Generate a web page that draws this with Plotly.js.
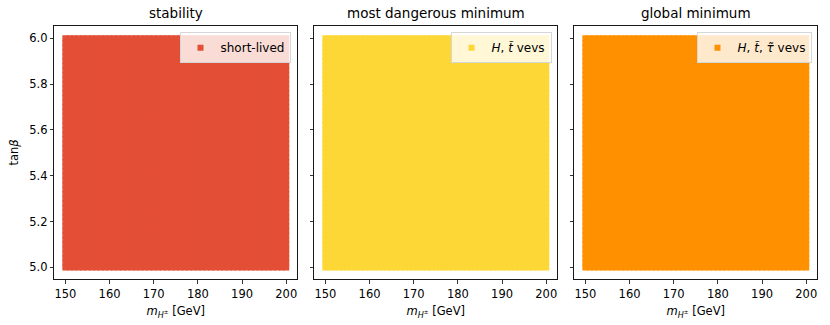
<!DOCTYPE html>
<html>
<head>
<meta charset="utf-8">
<script src="https://cdn.plot.ly/plotly-3.0.1.min.js"></script>
<style>html,body{margin:0;padding:0;background:#fff;}#chart{width:830px;height:325px;}</style>
</head>
<body>
<div id="chart"></div>
<script>
// scan grid (charged Higgs mass in GeV, tan beta)
const mH = [150,151,152,153,154,155,156,157,158,159,160,161,162,163,164,165,166,167,168,169,170,
  171,172,173,174,175,176,177,178,179,180,181,182,183,184,185,186,187,188,189,190,
  191,192,193,194,195,196,197,198,199,200];
const tanB = [5.00,5.02,5.04,5.06,5.08,5.10,5.12,5.14,5.16,5.18,5.20,5.22,5.24,5.26,5.28,5.30,
  5.32,5.34,5.36,5.38,5.40,5.42,5.44,5.46,5.48,5.50,5.52,5.54,5.56,5.58,5.60,5.62,5.64,5.66,
  5.68,5.70,5.72,5.74,5.76,5.78,5.80,5.82,5.84,5.86,5.88,5.90,5.92,5.94,5.96,5.98,6.00];
const panelTitles = ['stability', 'most dangerous minimum', 'global minimum'];
const seriesNames = ['short-lived', '<i>H</i>, <i>t̃</i> vevs', '<i>H</i>, <i>t̃</i>, <i>τ̃</i> vevs'];
const seriesColors = ['#e34f36', '#fdd736', '#ff9100'];
const xTicks = [150, 160, 170, 180, 190, 200];
const yTicks = [5.0, 5.2, 5.4, 5.6, 5.8, 6.0];

const W = 830, H = 325;
const panelsPx = [[54.3, 297.3], [314.3, 557.3], [574.3, 817.3]];
const legendRightPx = [290.5, 551.5, 811.5];
const topPx = 25.7, botPx = 279.3;
const font = 'DejaVu Sans, sans-serif';

const gx = [], gy = [];
for (const x of mH) for (const y of tanB) { gx.push(x); gy.push(y); }

const traces = [];
const layout = {
  width: W, height: H,
  margin: {l: 0, r: 0, t: 0, b: 0},
  paper_bgcolor: '#fff', plot_bgcolor: '#fff',
  showlegend: true,
  font: {family: font, color: '#000', size: 11.5},
  annotations: []
};

for (let i = 0; i < 3; i++) {
  const sfx = i === 0 ? '' : String(i + 1);
  const legKey = 'legend' + sfx;
  traces.push({
    type: 'scatter', mode: 'markers',
    x: gx, y: gy,
    xaxis: 'x' + sfx, yaxis: 'y' + sfx,
    name: seriesNames[i],
    legend: legKey,
    showlegend: true,
    marker: {symbol: 'square', size: 6, color: seriesColors[i], line: {width: 0}},
    hoverinfo: 'skip'
  });
  const dom = [panelsPx[i][0] / W, panelsPx[i][1] / W];
  layout['xaxis' + sfx] = {
    domain: dom, range: [147.5, 202.5], anchor: 'y' + sfx,
    tickvals: xTicks, ticks: 'outside', ticklen: 3.5, tickwidth: 0.8, tickcolor: '#000',
    showline: true, mirror: true, linecolor: '#000', linewidth: 0.9,
    showgrid: false, zeroline: false,
    tickfont: {family: font, size: 11.5},
    title: {text: '<i>m</i><sub><i>H</i><sup>±</sup></sub> [GeV]', font: {family: font, size: 11.5}, standoff: 7}
  };
  layout['yaxis' + sfx] = {
    domain: [1 - botPx / H, 1 - topPx / H], range: [4.948, 6.055], anchor: 'x' + sfx,
    tickvals: yTicks, ticktext: yTicks.map(v => v.toFixed(1)),
    showticklabels: i === 0,
    ticks: 'outside', ticklen: 3.5, tickwidth: 0.8, tickcolor: '#000',
    showline: true, mirror: true, linecolor: '#000', linewidth: 0.9,
    showgrid: false, zeroline: false,
    tickfont: {family: font, size: 11.5},
    title: i === 0 ? {text: 'tan<i>β</i>', font: {family: font, size: 11.5}, standoff: 8} : {text: ''}
  };
  layout[legKey] = {
    x: legendRightPx[i] / W, xanchor: 'right', xref: 'paper',
    y: 1 - 32.3 / H, yanchor: 'top', yref: 'paper',
    bgcolor: 'rgba(255,255,255,0.8)', bordercolor: '#d6d6d6', borderwidth: 1,
    font: {family: font, size: 12, color: '#000'},
    itemsizing: 'trace', tracegroupgap: 0
  };
  layout.annotations.push({
    text: panelTitles[i], xref: 'paper', yref: 'paper',
    x: (dom[0] + dom[1]) / 2, y: 1 - 13 / H, xanchor: 'center', yanchor: 'middle',
    showarrow: false, font: {family: font, size: 13.5, color: '#000'}
  });
}

Plotly.newPlot('chart', traces, layout, {staticPlot: true, displayModeBar: false});
</script>
</body>
</html>
